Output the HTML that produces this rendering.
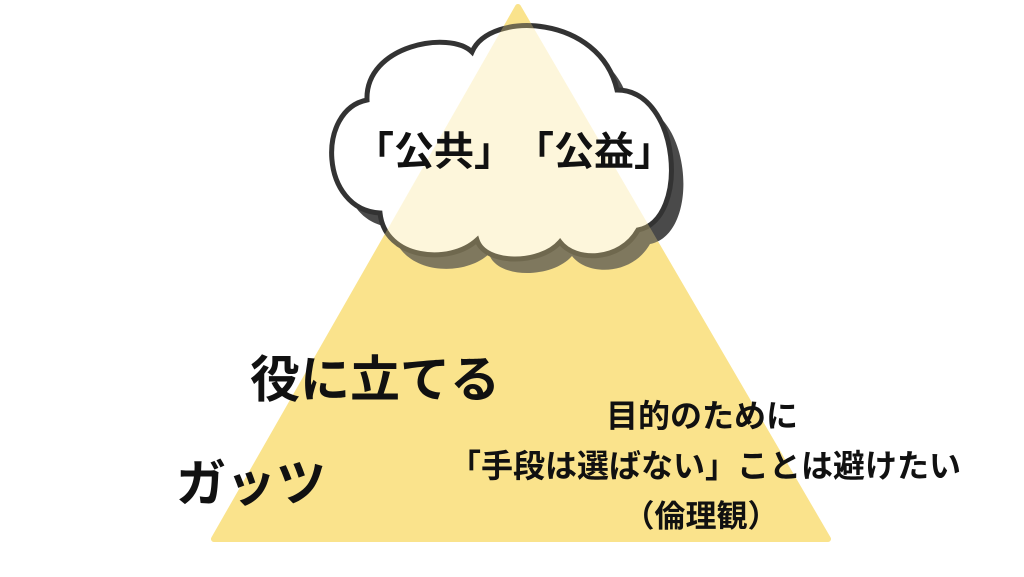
<!DOCTYPE html>
<html><head><meta charset="utf-8"><style>
html,body{margin:0;padding:0;background:#fff;}
svg{display:block}
text{font-family:"Liberation Sans","Noto Sans CJK JP",sans-serif;font-weight:bold;fill:#111}
</style></head><body>
<svg width="1024" height="577" viewBox="0 0 1024 577">
<defs>
<path id="cl" d="M380 213 C320 210,316 110,367 100 C365 45,450 30,472 52 C490 10,600 15,617 90 C680 90,690 220,638 230 C620 262,575 262,560 242 C540 265,485 265,477 240 C450 265,385 260,380 213 Z"/>
</defs>
<polygon points="518,7 214,539 828,539" fill="#FAE38C" stroke="#FAE38C" stroke-width="6" stroke-linejoin="round"/>
<use href="#cl" transform="translate(12,14)" fill="#4a4a4a"/>
<use href="#cl" fill="#fff" stroke="#333" stroke-width="5"/>
<polygon points="518,7 214,539 828,539" fill="#FAE38C" opacity="0.3" stroke="#FAE38C" stroke-width="6" stroke-linejoin="round"/>
<text x="514" y="165" font-size="40" text-anchor="middle">「公共」　「公益」</text>
<text x="250" y="397" font-size="50">役に立てる</text>
<text x="176" y="501" font-size="50">ガッツ</text>
<text x="702" y="427" font-size="32" text-anchor="middle">目的のために</text>
<text x="705" y="477" font-size="32" text-anchor="middle">「手段は選ばない」ことは避けたい</text>
<text x="701" y="527" font-size="31" text-anchor="middle">（倫理観）</text>
</svg>
</body></html>
